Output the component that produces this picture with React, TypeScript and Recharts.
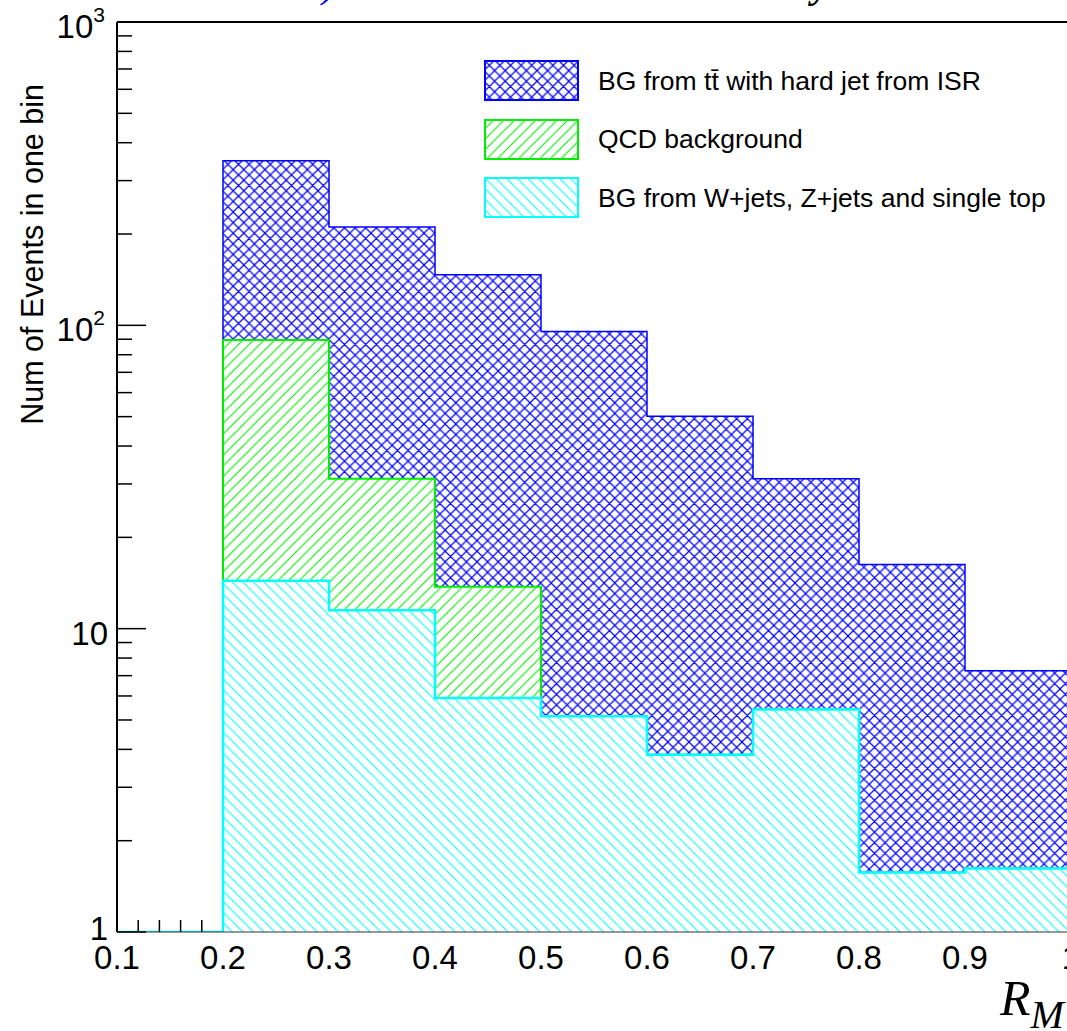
import React from "react";
import {
  ComposedChart,
  Area,
  XAxis,
  YAxis,
  Legend,
  ReferenceLine,
} from "recharts";

// R_M bin edges (last one closes the final bin)
const binEdges = [0.1, 0.2, 0.3, 0.4, 0.5, 0.6, 0.7, 0.8, 0.9, 1.0];

// events per bin: 0.1-0.2, 0.2-0.3, ..., 0.9-1.0
const wzSingleTop = [0, 14.4, 11.5, 5.91, 5.14, 3.84, 5.41, 1.57, 1.62];
const qcdBg = [0, 75.1, 19.7, 7.84, 0, 0, 0, 0, 0];
const ttbarIsr = [0, 259.5, 179.8, 133.2, 90.2, 46.3, 25.8, 14.7, 5.65];

const xMajorTicks = [0.1, 0.2, 0.3, 0.4, 0.5, 0.6, 0.7, 0.8, 0.9, 1.0];
const yDecades = [1, 10, 100, 1000];
const yDomain = [1, 1000];

const FONT = "'Liberation Sans', Arial, Helvetica, sans-serif";
const SERIF = "'Liberation Serif', 'Times New Roman', serif";

const BLUE = "#0000ff";
const GREEN = "#00ee00";
const CYAN = "#00ffff";

// THStack-like cumulative sums, drawn back to front
const stackWz = wzSingleTop;
const stackQcd = wzSingleTop.map((v, i) => v + qcdBg[i]);
const stackAll = stackQcd.map((v, i) => v + ttbarIsr[i]);

const floor = yDomain[0];
const data = binEdges.map((x, i) => {
  const j = Math.min(i, wzSingleTop.length - 1);
  return {
    x,
    all: Math.max(stackAll[j], floor),
    qcd: Math.max(stackQcd[j], floor),
    wz: Math.max(stackWz[j], floor),
  };
});

const xTicks: number[] = [];
xMajorTicks.forEach((m, i) => {
  xTicks.push(m);
  if (i < xMajorTicks.length - 1) {
    for (let k = 1; k < 5; k++) xTicks.push(Math.round((m + k * 0.02) * 100) / 100);
  }
});

const yTicks: number[] = [];
yDecades.forEach((d, i) => {
  if (i === yDecades.length - 1) yTicks.push(d);
  else for (let k = 1; k < 10; k++) yTicks.push(d * k);
});

// ROOT paints the histograms over the axis ticks
const isCovered = (v: number) => {
  const i = binEdges.findIndex(
    (e, k) => k < binEdges.length - 1 && v >= e - 1e-9 && v < binEdges[k + 1] - 1e-9
  );
  return i >= 0 && stackAll[i] > 0;
};

const XTick = ({ x, y, payload }: any) => {
  const v = payload.value;
  const major = xMajorTicks.some((m) => Math.abs(m - v) < 1e-6);
  return (
    <g>
      {!isCovered(v) && (
        <line x1={x} x2={x} y1={y} y2={y - (major ? 24 : 12)} stroke="#000" strokeWidth={1.5} />
      )}
      {major && (
        <text x={x} y={y + 37} textAnchor="middle" fontSize={33} fontFamily={FONT} fill="#000">
          {v === 1 ? "1" : v.toFixed(1)}
        </text>
      )}
    </g>
  );
};

const YTick = ({ x, y, payload }: any) => {
  const v = payload.value;
  const e = Math.log10(v);
  const major = Math.abs(e - Math.round(e)) < 1e-9;
  const p = Math.round(e);
  return (
    <g>
      <line x1={x} x2={x + (major ? 29 : 15)} y1={y} y2={y} stroke="#000" strokeWidth={1.5} />
      {major && (
        <text
          x={x - (p >= 2 ? 12 : 9)}
          y={y + (v === yDomain[0] ? 8 : 16)}
          textAnchor="end"
          fontSize={33}
          fontFamily={FONT}
          fill="#000"
        >
          {p < 2 ? String(v) : "10"}
          {p >= 2 && (
            <tspan dy={-16} fontSize={21}>
              {p}
            </tspan>
          )}
        </text>
      )}
    </g>
  );
};

const legendRows = [
  {
    id: "hatchCross",
    color: BLUE,
    label: <>BG from t{"t\u0304"} with hard jet from ISR</>,
  },
  { id: "hatchFwd", color: GREEN, label: <>QCD background</> },
  { id: "hatchBack", color: CYAN, label: <>BG from W+jets, Z+jets and single top</> },
];

const LegendBox = () => (
  <div>
    {legendRows.map((r) => (
      <div key={r.id} style={{ display: "flex", alignItems: "center", height: 58.5 }}>
        <svg width={96} height={42} style={{ display: "block" }}>
          <rect x={1} y={1} width={93} height={39} fill={`url(#${r.id})`} stroke={r.color} strokeWidth={2} />
        </svg>
        <span style={{ marginLeft: 18, fontSize: 26.5, fontFamily: FONT, color: "#000", whiteSpace: "nowrap" }}>
          {r.label}
        </span>
      </div>
    ))}
  </div>
);

const H = 10.6;

export default function App() {
  return (
    <div
      style={{
        position: "absolute",
        left: 0,
        top: 0,
        width: 1067,
        height: 1031,
        overflow: "hidden",
        background: "#fff",
      }}
    >
      <ComposedChart width={1080} height={1031} data={data} margin={{ top: 22, right: 9, bottom: 39, left: 0 }}>
        <defs>
          {/* hatches sit on white, so each stacked layer hides the one behind it */}
          <pattern id="hatchCross" patternUnits="userSpaceOnUse" width={H} height={H}>
            <rect width={H} height={H} fill="#fff" />
            <path
              d={`M0,0 L${H},${H} M${H},0 L0,${H} M-1,${H - 1} L1,${H + 1} M${H - 1},-1 L${H + 1},1 M-1,1 L1,-1 M${H - 1},${H + 1} L${H + 1},${H - 1}`}
              stroke={BLUE}
              strokeWidth={1.2}
            />
          </pattern>
          <pattern id="hatchFwd" patternUnits="userSpaceOnUse" width={H} height={H}>
            <rect width={H} height={H} fill="#fff" />
            <path
              d={`M0,${H} L${H},0 M-1,1 L1,-1 M${H - 1},${H + 1} L${H + 1},${H - 1}`}
              stroke={GREEN}
              strokeWidth={1.1}
            />
          </pattern>
          <pattern id="hatchBack" patternUnits="userSpaceOnUse" width={H} height={H}>
            <rect width={H} height={H} fill="#fff" />
            <path
              d={`M0,0 L${H},${H} M-1,${H - 1} L1,${H + 1} M${H - 1},-1 L${H + 1},1`}
              stroke={CYAN}
              strokeWidth={1.1}
            />
          </pattern>
        </defs>

        <XAxis
          type="number"
          dataKey="x"
          domain={[binEdges[0], binEdges[binEdges.length - 1]]}
          ticks={xTicks}
          interval={0}
          allowDataOverflow
          height={60}
          tickLine={false}
          tickSize={0}
          tickMargin={0}
          tick={<XTick />}
          axisLine={{ stroke: "#333", strokeWidth: 1 }}
          label={{
            content: ({ viewBox }: any) => (
              <text
                x={viewBox.x + viewBox.width - 71}
                y={viewBox.y + 83}
                fontFamily={SERIF}
                fontStyle="italic"
                fontSize={50}
                fill="#000"
              >
                R
                <tspan dy={13} fontSize={40}>
                  M
                </tspan>
              </text>
            ),
          }}
        />
        <YAxis
          type="number"
          scale="log"
          domain={yDomain}
          ticks={yTicks}
          interval={0}
          allowDataOverflow
          width={117}
          tickLine={false}
          tickSize={0}
          tickMargin={0}
          tick={<YTick />}
          axisLine={{ stroke: "#000", strokeWidth: 2 }}
          label={{
            content: ({ viewBox }: any) => {
              const tx = viewBox.x + 43;
              const ty = viewBox.y + 62;
              return (
                <text
                  x={tx}
                  y={ty}
                  transform={`rotate(-90, ${tx}, ${ty})`}
                  textAnchor="end"
                  fontFamily={FONT}
                  fontSize={30.5}
                  fill="#000"
                >
                  Num of Events in one bin
                </text>
              );
            },
          }}
        />

        <ReferenceLine y={yDomain[1]} stroke="#000" strokeWidth={2} />

        <Area
          type="stepAfter"
          dataKey="all"
          baseValue="dataMin"
          stroke={BLUE}
          strokeWidth={1.5}
          fill="url(#hatchCross)"
          fillOpacity={1}
          isAnimationActive={false}
          dot={false}
          activeDot={false}
        />
        <Area
          type="stepAfter"
          dataKey="qcd"
          baseValue="dataMin"
          stroke={GREEN}
          strokeWidth={2}
          fill="url(#hatchFwd)"
          fillOpacity={1}
          isAnimationActive={false}
          dot={false}
          activeDot={false}
        />
        <Area
          type="stepAfter"
          dataKey="wz"
          baseValue="dataMin"
          stroke={CYAN}
          strokeWidth={2.5}
          fill="url(#hatchBack)"
          fillOpacity={1}
          isAnimationActive={false}
          dot={false}
          activeDot={false}
        />

        <Legend
          layout="vertical"
          align="center"
          verticalAlign="middle"
          content={<LegendBox />}
          wrapperStyle={{ left: 484, top: 51.75, width: 600, height: 176 }}
        />

        {/* title of the pad, clipped by the top edge */}
        <text x={322} y={-3} fontFamily={SERIF} fontStyle="italic" fontSize={40} fill={BLUE}>
          )
        </text>
        <text x={812} y={-3} fontFamily={SERIF} fontWeight="bold" fontStyle="italic" fontSize={40} fill="#000">
          y
        </text>
      </ComposedChart>
    </div>
  );
}
